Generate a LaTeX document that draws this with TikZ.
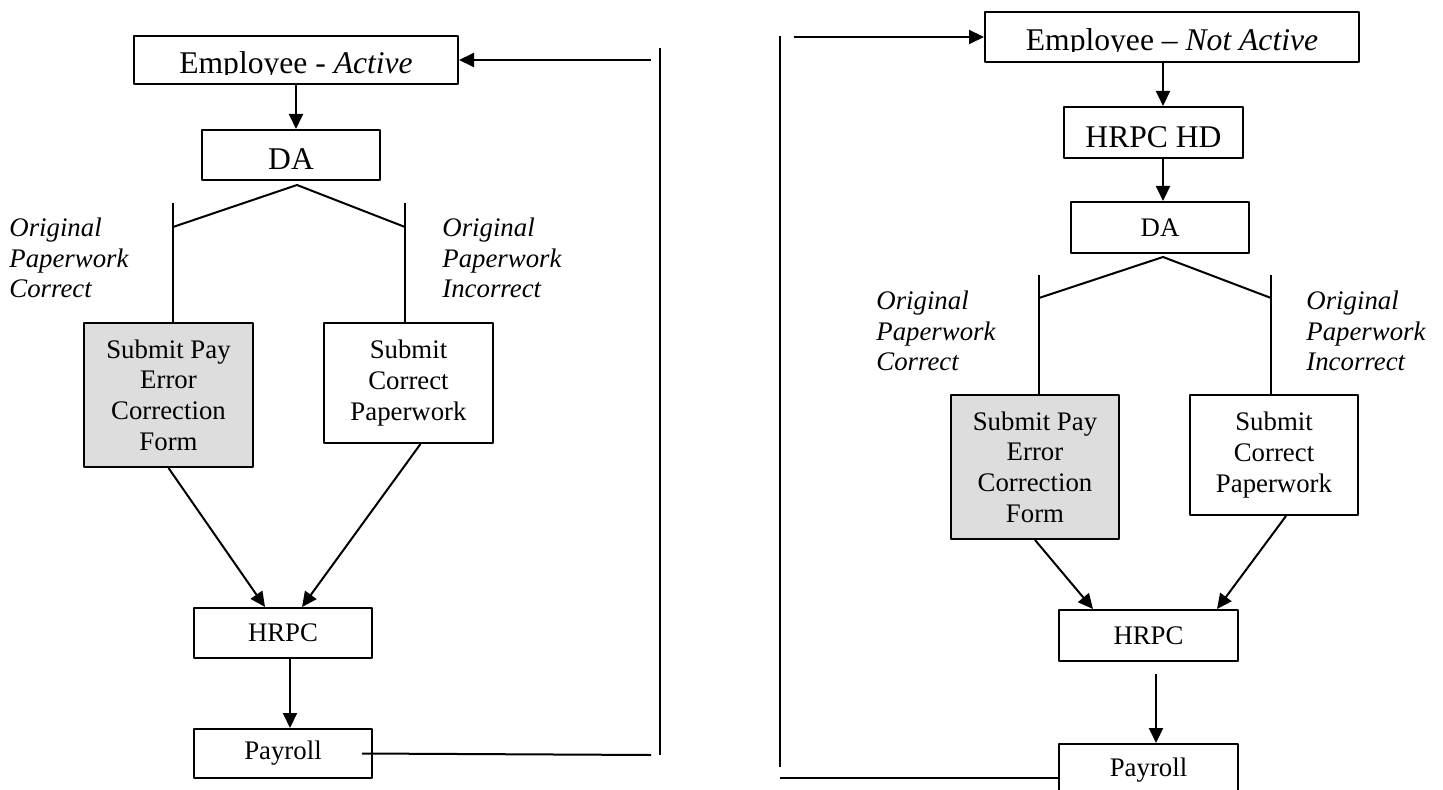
\documentclass[tikz,border=0pt]{standalone}
\usepackage{fontspec}
\setmainfont{Liberation Serif}
\usetikzlibrary{arrows.meta}
\definecolor{formgray}{HTML}{DDDDDD}
\newcommand{\bigtxt}{\fontsize{15.8}{19}\selectfont}
\newcommand{\smalltxt}{\fontsize{13.4}{15.3}\selectfont}

\begin{document}
\begin{tikzpicture}[x=0.5pt,y=-0.5pt,>={Triangle[length=7.5pt,width=7pt]},line join=bevel,
  box/.style={draw,line width=1pt,inner sep=0pt,align=center,font=\smalltxt},
  formbox/.style={box,fill=formgray},
  branchlabel/.style={anchor=base west,inner sep=0pt,align=left,font=\smalltxt\itshape},
  link/.style={line width=1pt}]
%%
  \clip (0,0) rectangle (1443,790);
%% active employee
  \node (empA) at (296,60) [box,minimum width=162pt,minimum height=24pt] {};
  \begin{scope}
    \clip (134,36) rectangle (458,74.5);
    \node (empAtxt) at (296,74) [anchor=base,inner sep=0pt,font=\bigtxt] {Employee - \textit{Active}};
  \end{scope}
  \node (daA) at (291,155) [box,minimum width=89pt,minimum height=25pt,font=\bigtxt,text height=15pt] {DA};
  \node (formA) at (168.5,395) [formbox,minimum width=84.5pt,minimum height=72pt] {Submit Pay\\Error\\Correction\\Form};
  \node (paperA) at (408.5,383) [box,minimum width=84.5pt,minimum height=60pt] {Submit\\Correct\\Paperwork};
  \node (hrpcA) at (283,633) [box,minimum width=89pt,minimum height=25pt] {HRPC};
  \node (payA) at (283,753.5) [box,minimum width=89pt,minimum height=24.5pt] {Payroll};
  \node (okA) at (9,298) [branchlabel] {Original\\Paperwork\\Correct};
  \node (badA) at (442,298) [branchlabel] {Original\\Paperwork\\Incorrect};
  \coordinate (apexA) at (297,185);
  \coordinate (kneeLA) at (173,227);
  \coordinate (kneeRA) at (405,227);
  \coordinate (topLA) at (173,203);
  \coordinate (topRA) at (405,203);
  \coordinate (fbA) at (651,60);
  \coordinate (retA) at (651,755);
  \coordinate (sepAtop) at (660,48);
  \coordinate (sepAbot) at (660,755);
  \draw [link,->] (empA.south) -- (empA.south |- daA.north);
  \draw [link] (kneeLA) -- (apexA) -- (kneeRA);
  \draw [link] (topLA) -- (topLA |- formA.north);
  \draw [link] (topRA) -- (topRA |- paperA.north);
  \draw [link,->] (formA.south) -- ([xshift=-9pt]hrpcA.north);
  \draw [link,->] ([xshift=6pt]paperA.south) -- ([xshift=9.5pt]hrpcA.north);
  \draw [link,->] ([xshift=3.5pt]hrpcA.south) -- ([xshift=3.5pt]payA.north);
  \draw [link] ([xshift=-5.5pt]payA.east) -- (retA);
  \draw [link] (sepAtop) -- (sepAbot);
  \draw [link,->] (fbA) -- (empA.east);
%% employee not active
  \node (empN) at (1172,37) [box,minimum width=187pt,minimum height=25pt] {};
  \begin{scope}
    \clip (985,12) rectangle (1359,51.5);
    \node (empNtxt) at (1172,51) [anchor=base,inner sep=0pt,font=\bigtxt] {Employee – \textit{Not Active}};
  \end{scope}
  \node (hrpcHD) at (1153.5,132.5) [box,minimum width=89.5pt,minimum height=25.5pt,font=\bigtxt,text height=15pt] {HRPC HD};
  \node (daN) at (1160,227.5) [box,minimum width=89pt,minimum height=25.5pt] {DA};
  \node (formN) at (1035,467) [formbox,minimum width=84pt,minimum height=72pt] {Submit Pay\\Error\\Correction\\Form};
  \node (paperN) at (1274,455) [box,minimum width=84pt,minimum height=60pt] {Submit\\Correct\\Paperwork};
  \node (hrpcN) at (1148.5,635.5) [box,minimum width=89.5pt,minimum height=25.5pt] {HRPC};
  \node (payN) at (1148.5,770) [box,minimum width=89.5pt,minimum height=26pt] {Payroll};
  \node (okN) at (876,371) [branchlabel] {Original\\Paperwork\\Correct};
  \node (badN) at (1306,371) [branchlabel] {Original\\Paperwork\\Incorrect};
  \coordinate (apexN) at (1163,257);
  \coordinate (kneeLN) at (1039,298);
  \coordinate (kneeRN) at (1271,298);
  \coordinate (topLN) at (1039,275);
  \coordinate (topRN) at (1271,275);
  \coordinate (fbN) at (794,37);
  \coordinate (retN) at (780,778);
  \coordinate (sepNtop) at (780,36);
  \coordinate (sepNbot) at (780,767);
  \draw [link,->] ([xshift=-4.5pt]empN.south) -- ([xshift=-4.5pt]empN.south |- hrpcHD.north);
  \draw [link,->] ([xshift=4.75pt]hrpcHD.south) -- ([xshift=4.75pt]hrpcHD.south |- daN.north);
  \draw [link] (kneeLN) -- (apexN) -- (kneeRN);
  \draw [link] (topLN) -- (topLN |- formN.north);
  \draw [link] (topRN) -- (topRN |- paperN.north);
  \draw [link,->] (formN.south) -- ([xshift=17.5pt]hrpcN.north west);
  \draw [link,->] ([xshift=6pt]paperN.south) -- ([xshift=-11pt]hrpcN.north east);
  \draw [link,->] ([xshift=3.75pt,yshift=-6pt]hrpcN.south) -- ([xshift=3.75pt]payN.north);
  \draw [link] ([yshift=-4pt]payN.west) -- (retN);
  \draw [link] (sepNtop) -- (sepNbot);
  \draw [link,->] (fbN) -- (empN.west);
%
\end{tikzpicture}
\end{document}
